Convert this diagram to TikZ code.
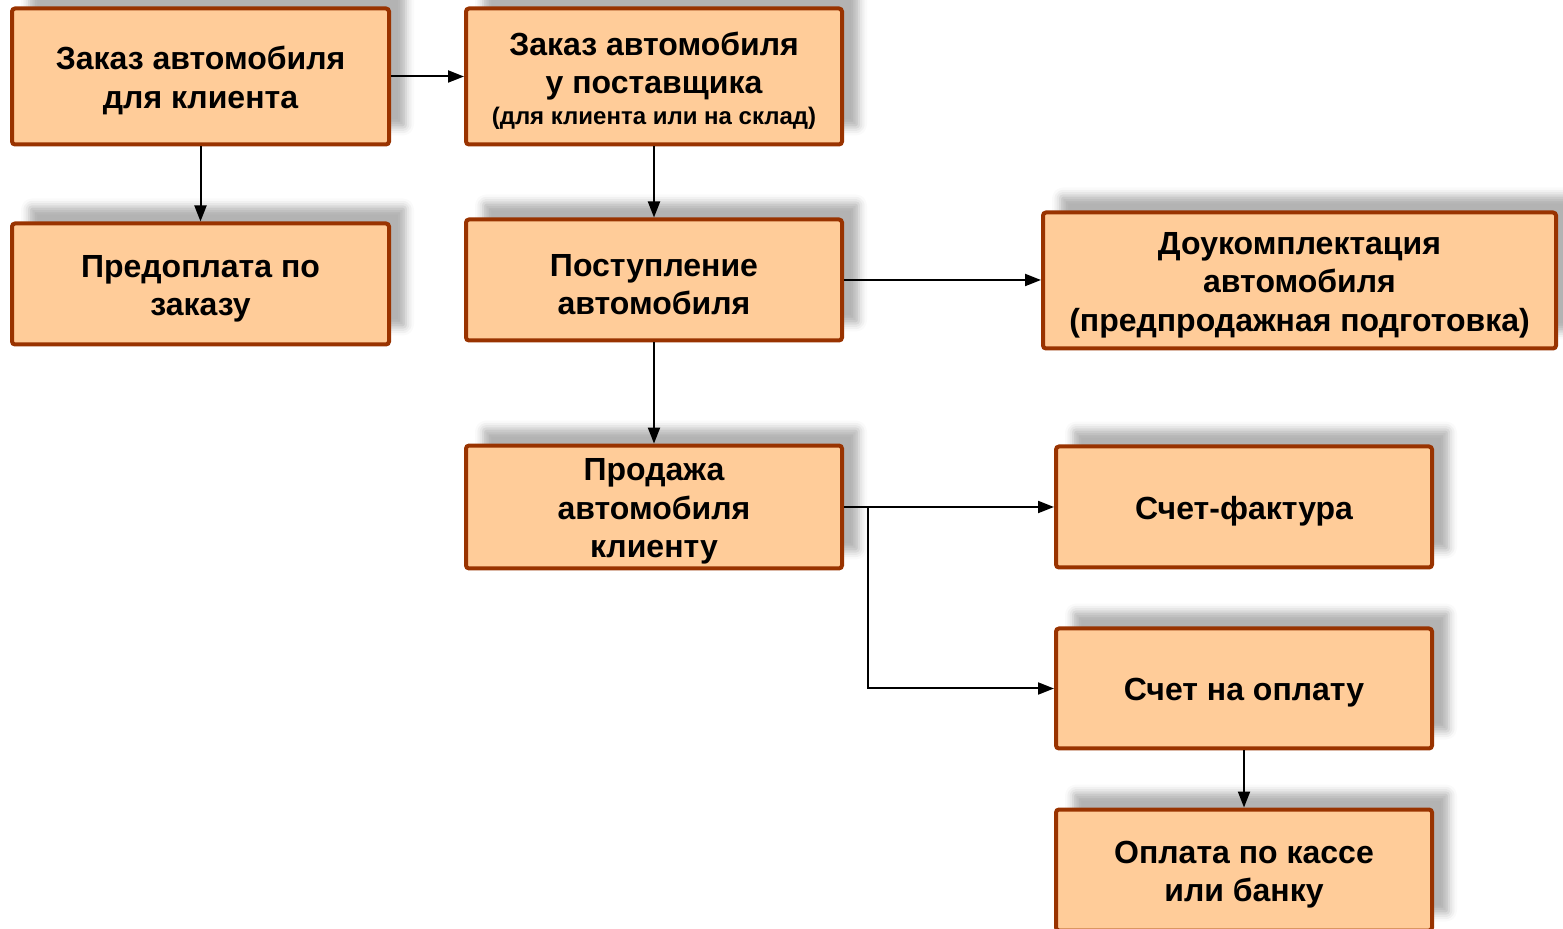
\documentclass[tikz,border=0pt]{standalone}
\usepackage{fontspec}
\setmainfont{Liberation Sans}
\usetikzlibrary{arrows.meta,shadows.blur}
\definecolor{boxFill}{HTML}{FFCC99}
\definecolor{boxBorder}{HTML}{993300}
\newcommand{\smallLine}[1]{{\fontsize{12}{14}\selectfont #1}}
\newcommand{\flowBox}[6]{%%
  \node[boxStyle,minimum width=#4*0.5pt,minimum height=#5*0.5pt] (#1) at (#2,#3) {\rule{0pt}{15.7pt}#6};
}

\begin{document}
\begin{tikzpicture}[%%
  x=0.5pt,y=-0.5pt,%%
  boxStyle/.style={draw=boxBorder,fill=boxFill,line width=2pt,rounded corners=1.5pt,%%
    align=center,inner sep=2pt,font=\fontsize{16}{19.2}\selectfont\bfseries,%%
    blur shadow={shadow xshift=8.5pt,shadow yshift=8.5pt,shadow blur radius=4pt,shadow opacity=30}},%%
  arrowStyle/.style={-{Triangle[length=8pt,width=6pt]},line width=1pt,black}%%
]
%%
%%
\useasboundingbox (0,0) rectangle (1563,929);
%%
%% The boxes.
\flowBox{order}{200.5}{76.5}{377}{136}{Заказ автомобиля\\для клиента}
\flowBox{supplier}{654}{76.5}{376}{136}{Заказ автомобиля\\у поставщика\\[-4pt]\smallLine{(для клиента или на склад)}}
\flowBox{prepay}{200.5}{284}{377}{121}{Предоплата по\\заказу}
\flowBox{arrival}{654}{280}{376}{121}{Поступление\\автомобиля}
\flowBox{completion}{1299.5}{280.5}{513}{136}{Доукомплектация\\автомобиля\\(предпродажная подготовка)}
\flowBox{sale}{654}{507}{376}{121}{Продажа\\автомобиля\\клиенту}
\flowBox{invoice}{1244}{507}{376}{121}{Счет-фактура}
\flowBox{payInvoice}{1244}{688.5}{376}{120}{Счет на оплату}
\flowBox{payment}{1244}{870}{376}{121}{Оплата по кассе\\или банку}
%%
\coordinate (fork) at (868,507);
%%
%% The connectors.
\draw[arrowStyle] (order.east) -- (supplier.west);
\draw[arrowStyle] (order.south) -- (prepay.north);
\draw[arrowStyle] (supplier.south) -- (arrival.north);
\draw[arrowStyle] (arrival.east) -- (arrival.east -| completion.west);
\draw[arrowStyle] (arrival.south) -- (sale.north);
\draw[arrowStyle] (sale.east) -- (invoice.west);
\draw[arrowStyle] (fork) |- (payInvoice.west);
\draw[arrowStyle] (payInvoice.south) -- (payment.north);
\end{tikzpicture}
\end{document}
